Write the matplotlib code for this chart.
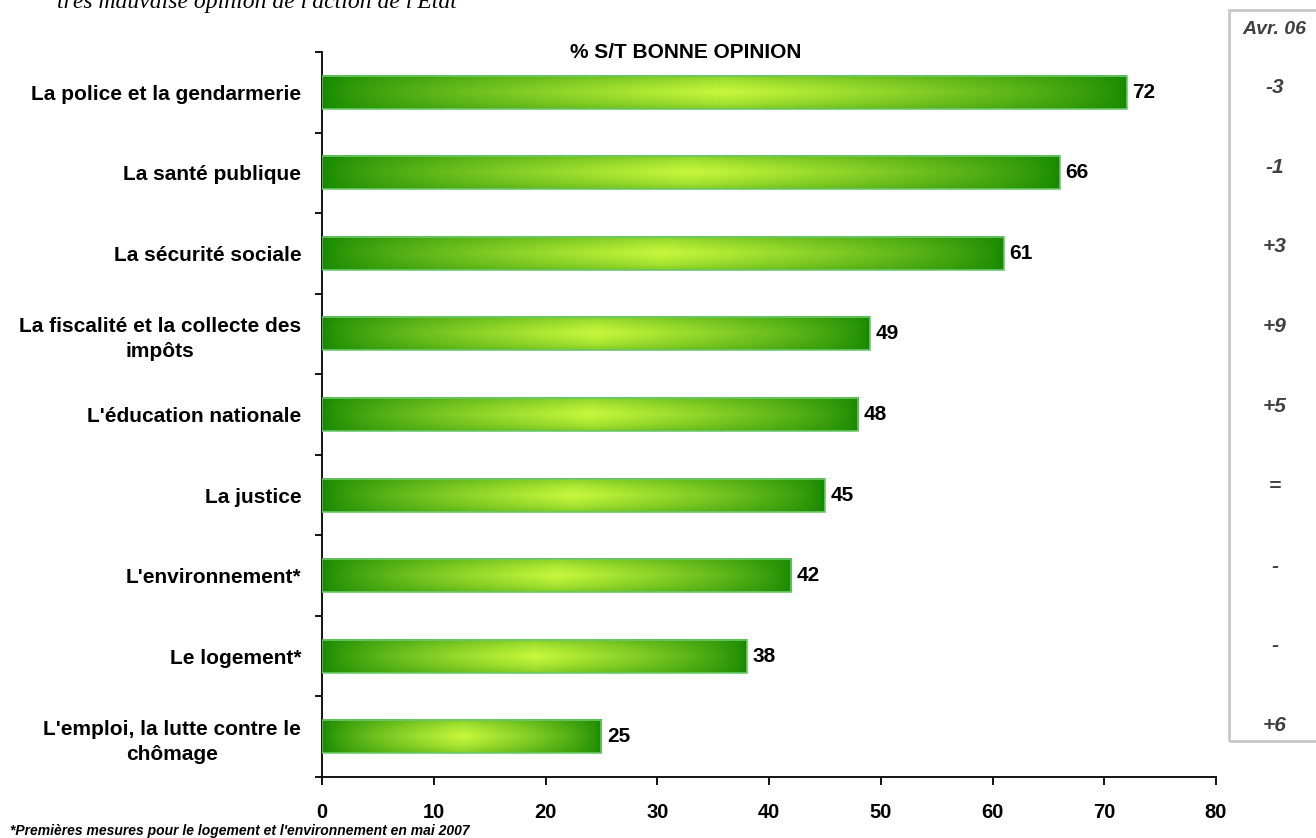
import numpy as np
import matplotlib
matplotlib.use("Agg")
import matplotlib.pyplot as plt
from matplotlib.patches import Rectangle
from matplotlib.colors import to_rgb

categories = [
    "La police et la gendarmerie",
    "La santé publique",
    "La sécurité sociale",
    "La fiscalité et la collecte des\nimpôts",
    "L'éducation nationale",
    "La justice",
    "L'environnement*",
    "Le logement*",
    "L'emploi, la lutte contre le\nchômage",
]
values = [72, 66, 61, 49, 48, 45, 42, 38, 25]
changes = ["-3", "-1", "+3", "+9", "+5", "=", "-", "-", "+6"]
xticks = [0, 10, 20, 30, 40, 50, 60, 70, 80]

W, H = 1316, 838
fig = plt.figure(figsize=(W / 100, H / 100), dpi=100)
ax = fig.add_axes([322 / W, 1 - 777 / H, (1216 - 322) / W, (777 - 52) / H])

n = len(categories)
ax.set_xlim(0, 80)
ax.set_ylim(n - 0.5, -0.5)

dark = np.array(to_rgb("#158800"))
light = np.array(to_rgb("#c8f83c"))
bh = 0.41

nx, ny = 400, 40
u = np.linspace(0, 1, nx)
v = np.linspace(0, 1, ny)
th = 1 - np.abs(2 * u - 1)
tv = 1 - np.abs(2 * v - 1)
TH, TV = np.meshgrid(th, tv)
f = np.clip(TH ** 0.7 * (0.55 + 0.45 * TV ** 0.5), 0, 1)
img = dark[None, None, :] * (1 - f[..., None]) + light[None, None, :] * f[..., None]

FS = 15
for i, val in enumerate(values):
    ax.imshow(img, extent=[0, val, i + bh / 2, i - bh / 2], aspect="auto",
              interpolation="bilinear", zorder=2)
    ax.add_patch(Rectangle((0, i - bh / 2), val, bh, fill=False,
                           edgecolor="#6cc86c", lw=1.2, zorder=3))
    ax.text(val + 0.5, i, str(val), va="center", ha="left", fontsize=FS,
            fontweight="bold", family="Liberation Sans", color="black")

ax.set_xticks(xticks)
ax.set_xticklabels([str(t) for t in xticks], fontsize=14.5, fontweight="bold",
                   family="Liberation Sans")
ax.set_yticks(range(n))
ax.set_yticklabels(categories, fontsize=FS, fontweight="bold",
                   family="Liberation Sans", multialignment="center",
                   linespacing=1.4)
ax.tick_params(axis="y", length=0, pad=15)
ax.set_yticks(np.arange(-0.5, n, 1), minor=True)
ax.tick_params(axis="y", which="minor", length=5, width=1.3, direction="out")
ax.tick_params(axis="x", length=6, width=1.3, direction="out", pad=13)
for s in ["top", "right"]:
    ax.spines[s].set_visible(False)
for s in ["left", "bottom"]:
    ax.spines[s].set_linewidth(1.3)

fig.text(686 / W, 1 - 53 / H, "% S/T BONNE OPINION", ha="center", va="center",
         fontsize=FS, fontweight="bold", family="Liberation Sans")

fig.text(57 / W, 1 - 8 / H, "très mauvaise opinion de l'action de l'Etat",
         ha="left", va="baseline", fontsize=17, style="italic",
         family="Liberation Serif")

# right box
box = Rectangle((1229 / W, 1 - 741 / H), (W + 20 - 1229) / W, (741 - 10) / H,
                transform=fig.transFigure, fill=False, edgecolor="#c8c8c8",
                lw=2, clip_on=False)
fig.add_artist(box)
fig.text(1274 / W, 1 - 30 / H, "Avr. 06", ha="center", va="center",
         fontsize=14, fontweight="bold", style="italic", color="#404040",
         family="Liberation Sans")
for i, c in enumerate(changes):
    ydisp = ax.transData.transform((0, i))[1]
    fig.text(1275 / W, (ydisp + 5 + i * 0.75) / H, c, ha="center", va="center",
             fontsize=FS, fontweight="bold", style="italic", color="#404040",
             family="Liberation Sans")

fig.text(10 / W, 1 - 831 / H,
         "*Premières mesures pour le logement et l'environnement en mai 2007",
         ha="left", va="center", fontsize=10, fontweight="bold", style="italic",
         family="Liberation Sans")

fig.savefig("out.png", dpi=100)
